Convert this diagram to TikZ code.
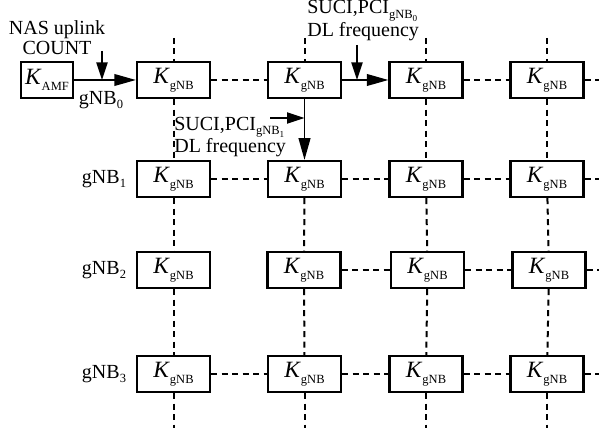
\documentclass[tikz,border=0pt]{standalone}
\usepackage{fontspec}
\setmainfont{Liberation Serif}
\usetikzlibrary{arrows.meta,calc}

\newcommand{\keyK}[1]{{\fontsize{14}{14}\selectfont\textit{K}}\raisebox{-3.5pt}{\fontsize{7.5}{8}\selectfont #1}}
\newcommand{\lowsub}[1]{\raisebox{-2.5pt}{\fontsize{7.5}{8}\selectfont #1}}
\newcommand{\lowsubsub}[1]{\raisebox{-1.8pt}{\fontsize{5.5}{6}\selectfont #1}}

\begin{document}
\begin{tikzpicture}[
  x=0.6pt,y=-0.6pt,
  font=\fontsize{12}{12}\selectfont,
  keybox/.style={rectangle,draw,line width=1.3pt,minimum width=43.8pt,minimum height=21.6pt,inner sep=0pt},
  link/.style={line width=1.2pt,dash pattern=on 3.6pt off 2.7pt},
  arrow/.style={-{Triangle[length=13pt,width=7pt]},line width=1.1pt},
  inarrow/.style={-{Triangle[length=10.5pt,width=6.6pt]},line width=1.1pt},
  rowlabel/.style={inner sep=0pt},
]
\useasboundingbox (0,0) rectangle (599,428);

% === KEY SOURCE ===
\node[keybox,minimum width=31.2pt] (amf) at (47,80) {\keyK{AMF}};
\node[align=center,inner sep=0pt] (nas) at (57,38) {NAS uplink\\COUNT};

% === ROW 0 ===
\node[keybox] (k01) at (173.5,80) {\keyK{gNB}};
\node[keybox] (k02) at (304.5,80) {\keyK{gNB}};
\node[keybox] (k03) at (426,80) {\keyK{gNB}};
\node[keybox] (k04) at (547,80) {\keyK{gNB}};

% === ROW 1 ===
\node[keybox] (k11) at (173.5,179) {\keyK{gNB}};
\node[keybox] (k12) at (304.5,179) {\keyK{gNB}};
\node[keybox] (k13) at (426,179) {\keyK{gNB}};
\node[keybox] (k14) at (547,179) {\keyK{gNB}};

% === ROW 2 ===
\node[keybox] (k21) at (173.5,270) {\keyK{gNB}};
\node[keybox] (k22) at (304,270) {\keyK{gNB}};
\node[keybox] (k23) at (427.5,270) {\keyK{gNB}};
\node[keybox] (k24) at (549,270) {\keyK{gNB}};

% === ROW 3 ===
\node[keybox] (k31) at (173.5,374) {\keyK{gNB}};
\node[keybox] (k32) at (304.5,374) {\keyK{gNB}};
\node[keybox] (k33) at (426,374) {\keyK{gNB}};
\node[keybox] (k34) at (547,374) {\keyK{gNB}};

% Row labels
\node[rowlabel] (g0) at (101,100) {gNB\lowsub{0}};
\node[rowlabel] (g1) at (104,179) {gNB\lowsub{1}};
\node[rowlabel] (g2) at (104,270) {gNB\lowsub{2}};
\node[rowlabel] (g3) at (104,374) {gNB\lowsub{3}};

% Handover inputs
\node[align=left,anchor=west,inner sep=0pt] (suci0) at (307,21) {SUCI,PCI\lowsub{gNB\lowsubsub{0}}\\DL frequency};
\node[align=left,anchor=west,inner sep=0pt] (suci1) at (174,137) {SUCI,PCI\lowsub{gNB\lowsubsub{1}}\\DL frequency};

\coordinate (in0) at (102,51);
\coordinate (in1) at (357,45);
\coordinate (in2) at (270,118);
\coordinate (top) at (0,38);
\coordinate (bot) at (0,428);
\coordinate (rim) at (599,0);

% Key derivation arrows
\draw[arrow] (amf.east) -- (k01.west);
\draw[inarrow] (in0) -- (in0 |- amf.east);
\draw[arrow] (k02.east) -- (k03.west);
\draw[inarrow] (in1) -- (in1 |- k02.east);
\draw[arrow] (k02.south) -- (k12.north);
\draw[inarrow] (in2) -- (in2 -| k02);

% Horizontal links
\draw[link] (k01) -- (k02);
\draw[link] (k03) -- (k04);
\draw[link] (k04.east) -- (k04 -| rim);
\draw[link] (k11) -- (k12);
\draw[link] (k12) -- (k13);
\draw[link] (k13) -- (k14);
\draw[link] (k14.east) -- (k14 -| rim);
\draw[link] (k22) -- (k23);
\draw[link] (k23) -- (k24);
\draw[link] (k24.east) -- (k24 -| rim);
\draw[link] (k31) -- (k32);
\draw[link] (k32) -- (k33);
\draw[link] (k33) -- (k34);
\draw[link] (k34.east) -- (k34 -| rim);

% Vertical links
\draw[link] (k01 |- top) -- (k01.north);
\draw[link] (k02 |- top) -- (k02.north);
\draw[link] (k03 |- top) -- (k03.north);
\draw[link] (k04 |- top) -- (k04.north);
\draw[link] (k01) -- (k11);
\draw[link] (k03) -- (k13);
\draw[link] (k04) -- (k14);
\draw[link] (k11) -- (k21);
\draw[link] (k12) -- (k22);
\draw[link] (k13) -- (k23);
\draw[link] (k14) -- (k24);
\draw[link] (k21) -- (k31);
\draw[link] (k22) -- (k32);
\draw[link] (k23) -- (k33);
\draw[link] (k24) -- (k34);
\draw[link] (k31.south) -- (k31 |- bot);
\draw[link] (k32.south) -- (k32 |- bot);
\draw[link] (k33.south) -- (k33 |- bot);
\draw[link] (k34.south) -- (k34 |- bot);

\end{tikzpicture}
\end{document}
